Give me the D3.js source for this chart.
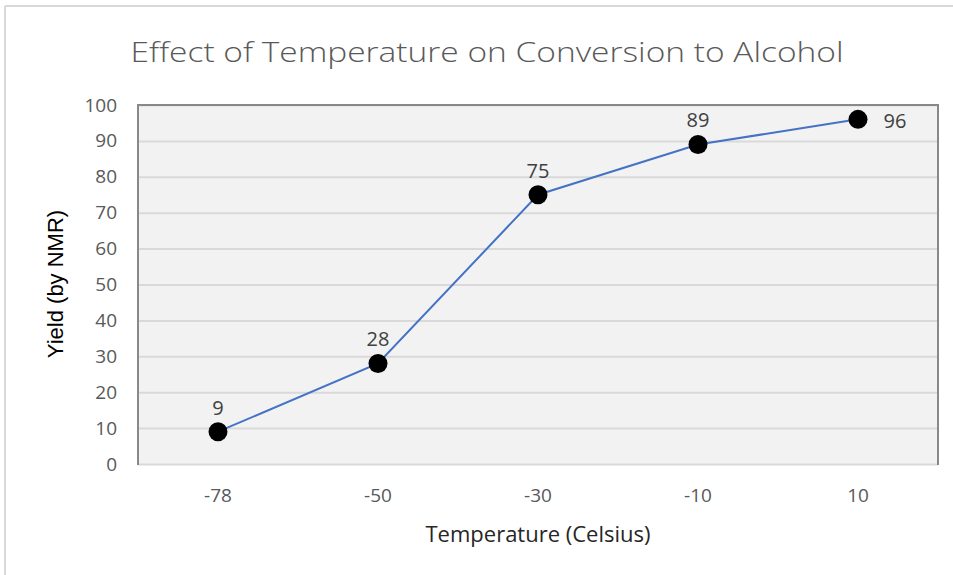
<!DOCTYPE html>
<html><head><meta charset="utf-8">
<script src="https://cdn.jsdelivr.net/npm/d3@7"></script>
<style>body{margin:0;background:#fff}svg{display:block}</style>
</head><body>
<svg id="c" width="953" height="575"></svg>
<script>
const categories = ["-78", "-50", "-30", "-10", "10"];
const yields = [9, 28, 75, 89, 96];
const yTicks = [0, 10, 20, 30, 40, 50, 60, 70, 80, 90, 100];
const title = "Effect of Temperature on Conversion to Alcohol";
const xTitle = "Temperature (Celsius)";
const yTitle = "Yield (by NMR)";

const svg = d3.select("#c");
const font = "'Open Sans', 'Noto Sans', sans-serif";
const m = {l:138, r:938, t:105, b:464};

// outer chart border (top & left visible)
svg.append("line").attr("x1",5).attr("x2",953).attr("y1",6).attr("y2",6).attr("stroke","#d9d9d9").attr("stroke-width",2);
svg.append("line").attr("x1",5).attr("x2",5).attr("y1",6).attr("y2",575).attr("stroke","#d9d9d9").attr("stroke-width",2);

const x = d3.scaleBand().domain(categories).range([m.l, m.r]);
const y = d3.scaleLinear().domain([0,100]).range([m.b, m.t]);

svg.append("rect").attr("x",m.l).attr("y",m.t).attr("width",m.r-m.l).attr("height",m.b-m.t).attr("fill","#f2f2f2");

const yAxisG = svg.append("g").attr("transform",`translate(${m.l},0)`)
  .call(d3.axisLeft(y).tickValues(yTicks).tickSize(-(m.r-m.l)).tickPadding(21).tickFormat(d3.format("d")));
yAxisG.select(".domain").remove();
yAxisG.selectAll(".tick line").attr("stroke","#d9d9d9").attr("stroke-width",2);
yAxisG.selectAll(".tick text").attr("fill","#595959").style("font-family",font).style("font-size","19px");

svg.append("path").attr("d",`M${m.l},${m.b+1}V${m.t}H${m.r}V${m.b+1}`).attr("fill","none").attr("stroke","#898989").attr("stroke-width",2);

const xAxisG = svg.append("g").attr("transform",`translate(0,${m.b})`)
  .call(d3.axisBottom(x).tickSize(0).tickPadding(25));
xAxisG.select(".domain").remove();
xAxisG.selectAll(".tick text").attr("fill","#595959").style("font-family",font).style("font-size","19px");

const pts = categories.map((c,i)=>({c, v:yields[i]}));
const cx = d => x(d.c)+x.bandwidth()/2;
const line = d3.line().x(cx).y(d=>y(d.v));
svg.append("path").datum(pts).attr("d",line).attr("fill","none").attr("stroke","#4472c4").attr("stroke-width",2);
svg.selectAll("circle.pt").data(pts).join("circle").attr("class","pt")
  .attr("cx",cx).attr("cy",d=>y(d.v)).attr("r",9.5).attr("fill","#000");

const last = pts.length-1;
svg.selectAll("text.lbl").data(pts).join("text").attr("class","lbl")
  .attr("x",(d,i)=>cx(d) + (i===last?37:0))
  .attr("y",(d,i)=>y(d.v) + (i===last?9:-17))
  .attr("text-anchor","middle").attr("fill","#404040")
  .style("font-family",font).style("font-size","20px").text(d=>d.v);

svg.append("text").attr("x",487).attr("y",62).attr("text-anchor","middle").attr("fill","#595959")
  .attr("textLength",713).attr("lengthAdjust","spacingAndGlyphs")
  .style("font-family",font).style("font-weight","300").style("font-size","28px").text(title);

svg.append("text").attr("x",538).attr("y",542).attr("text-anchor","middle").attr("fill","#262626")
  .style("font-family",font).style("font-size","22px").text(xTitle);

svg.append("text").attr("transform",`translate(63,284) rotate(-90)`).attr("text-anchor","middle").attr("fill","#000")
  .style("font-family","'Liberation Sans', Arial, sans-serif").style("font-size","22px").text(yTitle);
</script>
</body></html>
